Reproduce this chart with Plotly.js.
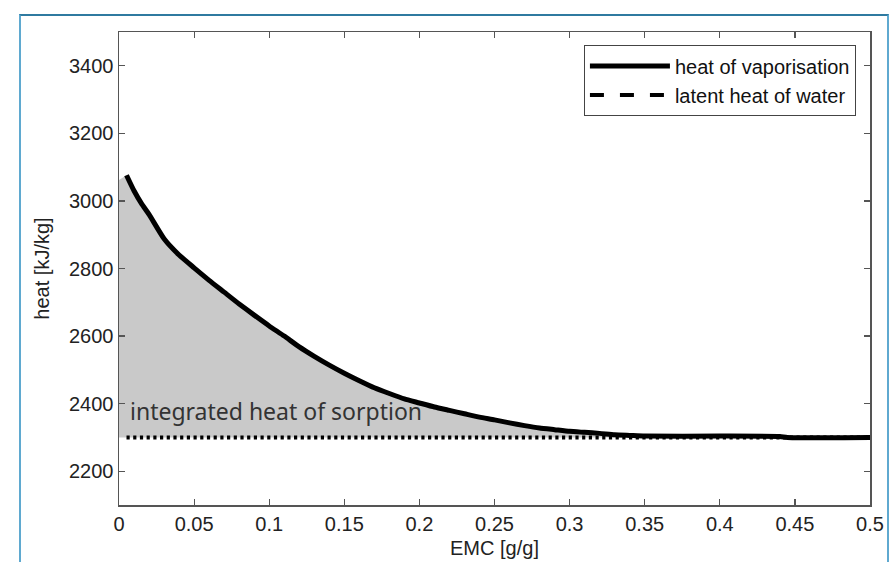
<!DOCTYPE html>
<html>
<head>
<meta charset="utf-8">
<script src="https://cdn.plot.ly/plotly-3.0.1.min.js"></script>
<style>
  html, body { margin: 0; padding: 0; background: #ffffff; }
  #wrap { position: relative; width: 890px; height: 562px; overflow: hidden; }
  #chart { position: absolute; left: 0; top: 0; width: 890px; height: 562px; }
  #frame { position: absolute; left: 19px; top: 14px; width: 866px; height: 600px;
           border-top: 2px solid #2f7aa0; border-left: 2px solid #5fa9d0; border-right: 2px solid #5fa9d0;
           pointer-events: none; }
</style>
</head>
<body>
<div id="wrap">
  <div id="chart"></div>
  <div id="frame"></div>
</div>
<script>
// EMC [g/g]
const emc = [0.005, 0.01, 0.015, 0.02, 0.03, 0.04, 0.05, 0.06, 0.07, 0.08, 0.09, 0.1,
             0.11, 0.12, 0.13, 0.14, 0.15, 0.16, 0.17, 0.18, 0.19, 0.2, 0.21, 0.22,
             0.23, 0.24, 0.25, 0.26, 0.27, 0.28, 0.29, 0.3, 0.31, 0.32, 0.33, 0.34,
             0.35, 0.4, 0.44, 0.445, 0.5];
// heat of vaporisation [kJ/kg]
const heatVap = [3076, 3030, 2992, 2960, 2888, 2840, 2802, 2765, 2730, 2695, 2662, 2630,
                 2600, 2568, 2540, 2514, 2490, 2468, 2447, 2430, 2414, 2402, 2390, 2380,
                 2370, 2360, 2352, 2343, 2335, 2328, 2323, 2318, 2315, 2312, 2308, 2306,
                 2304, 2304, 2303, 2300, 2300];
// latent heat of water [kJ/kg]
const latentX = [0.005, 0.5];
const latentY = [2300, 2300];
// shaded area starts at the axis
const shadeStartX = [0];
const shadeStartY = [3062];

const xTicks = [0, 0.05, 0.1, 0.15, 0.2, 0.25, 0.3, 0.35, 0.4, 0.45, 0.5];
const yTicks = [2200, 2400, 2600, 2800, 3000, 3200, 3400];

const shadeX = shadeStartX.concat(emc, [emc[emc.length - 1]], shadeStartX);
const shadeY = shadeStartY.concat(heatVap, [latentY[1]], [latentY[0]]);

const font = "Liberation Sans, Arial, Helvetica, sans-serif";

const traces = [
  { x: shadeX, y: shadeY, type: 'scatter', mode: 'lines', fill: 'toself',
    fillcolor: '#c9c9c9', line: { width: 0, color: 'rgba(0,0,0,0)' },
    showlegend: false, hoverinfo: 'skip' },
  { x: latentX, y: latentY, type: 'scatter', mode: 'lines',
    line: { color: '#000000', width: 4, dash: '3.2px,3.5px' },
    showlegend: false },
  { x: emc, y: heatVap, type: 'scatter', mode: 'lines', name: 'heat of vaporisation',
    line: { color: '#000000', width: 5, shape: 'spline', smoothing: 0.5 } },
  { x: [null], y: [null], type: 'scatter', mode: 'lines', name: 'latent heat of water',
    line: { color: '#000000', width: 4, dash: '14px,16px' } }
];

const axisCommon = {
  showgrid: false, zeroline: false, showline: true, linecolor: '#555555', linewidth: 1.5,
  ticks: 'inside', ticklen: 6, tickwidth: 1.2, tickcolor: '#555555', mirror: 'ticks',
  tickfont: { family: font, size: 20, color: '#222222' }
};

const layout = {
  width: 890, height: 562,
  margin: { l: 119, r: 20, t: 32, b: 57, pad: 0 },
  paper_bgcolor: '#ffffff', plot_bgcolor: '#ffffff',
  xaxis: Object.assign({}, axisCommon, {
    range: [0, 0.5], tickvals: xTicks, ticktext: xTicks.map(String),
    title: { text: 'EMC [g/g]', font: { family: font, size: 20, color: '#222222' }, standoff: 7 }
  }),
  yaxis: Object.assign({}, axisCommon, {
    range: [2100, 3500], tickvals: yTicks, ticktext: yTicks.map(String),
    title: { text: 'heat [kJ/kg]', font: { family: font, size: 20, color: '#222222' }, standoff: 14 }
  }),
  legend: {
    x: 0.981, y: 0.972, xanchor: 'right', yanchor: 'top',
    bgcolor: '#ffffff', bordercolor: '#444444', borderwidth: 1.2,
    font: { family: font, size: 20, color: '#111111' },
    itemwidth: 80, tracegroupgap: 0
  },
  annotations: [{
    x: 0.006, y: 2378, xref: 'x', yref: 'y', xanchor: 'left', yanchor: 'middle',
    text: 'integrated heat of sorption', showarrow: false,
    font: { family: 'Noto Sans, Open Sans, sans-serif', size: 23, color: '#333333' }
  }]
};

Plotly.newPlot('chart', traces, layout, { displayModeBar: false, staticPlot: true });
</script>
</body>
</html>
